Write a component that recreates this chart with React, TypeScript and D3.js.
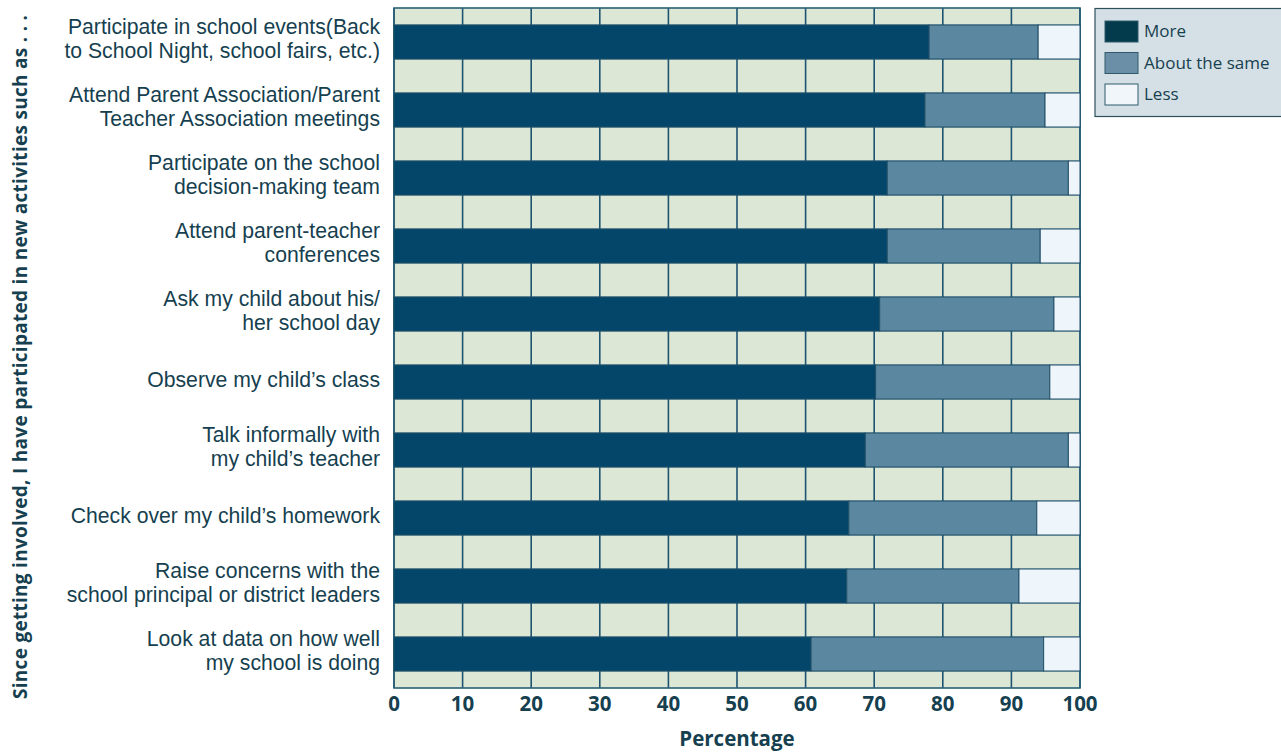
import React from "react";
import * as d3 from "d3";

const categories: string[][] = [
  ["Participate in school events(Back", "to School Night, school fairs, etc.)"],
  ["Attend Parent Association/Parent", "Teacher Association meetings"],
  ["Participate on the school", "decision-making team"],
  ["Attend parent-teacher", "conferences"],
  ["Ask my child about his/", "her school day"],
  ["Observe my child’s class"],
  ["Talk informally with", "my child’s teacher"],
  ["Check over my child’s homework"],
  ["Raise concerns with the", "school principal or district leaders"],
  ["Look at data on how well", "my school is doing"],
];
const more = [78.0, 77.4, 71.9, 71.9, 70.8, 70.2, 68.7, 66.3, 66.0, 60.8];
const aboutSame = [15.9, 17.5, 26.4, 22.3, 25.4, 25.4, 29.6, 27.4, 25.1, 33.9];
const less = more.map((m, i) => 100 - m - aboutSame[i]);
const seriesNames = ["More", "About the same", "Less"];
const xTicks = [0, 10, 20, 30, 40, 50, 60, 70, 80, 90, 100];

const barColors = ["#03466a", "#5b88a0", "#eef5fb"];
const legendColors = ["#043b4c", "#6b8fa6", "#f1f6fa"];
const textColor = "#163f4f";
const font = "'Open Sans', Lato, sans-serif";
const labelFont = "'Liberation Sans', Arial, sans-serif";

export default function App() {
  const left = 394, right = 1080, top = 8, bottom = 688;
  const x = d3.scaleLinear().domain([0, 100]).range([left, right]);
  const y = d3
    .scaleBand<number>()
    .domain(d3.range(categories.length))
    .range([top, bottom])
    .paddingInner(0.5)
    .paddingOuter(0.25);
  const series = [more, aboutSame, less];
  const stacks = more.map((_, i) => {
    let acc = 0;
    return series.map((s) => {
      const start = acc;
      acc += s[i];
      return [start, acc];
    });
  });

  return (
    <svg width={1281} height={753} style={{ position: "absolute", left: 0, top: 0 }}>
      <rect x={0} y={0} width={1281} height={753} fill="#ffffff" />
      <rect x={left} y={top} width={right - left} height={bottom - top} fill="#dde7d5" />
      {categories.map((_, i) => (
        <g key={"b" + i}>
          <line x1={left} x2={right} y1={y(i)!} y2={y(i)!} stroke="#5f8596" strokeWidth={1} />
          <line x1={left} x2={right} y1={y(i)! + y.bandwidth()} y2={y(i)! + y.bandwidth()} stroke="#5f8596" strokeWidth={1} />
        </g>
      ))}
      {xTicks.map((t) => (
        <line key={"g" + t} x1={x(t)} x2={x(t)} y1={top} y2={bottom} stroke="#1e5470" strokeWidth={1.6} />
      ))}
      <rect x={left} y={top} width={right - left} height={bottom - top} fill="none" stroke="#2a5f78" strokeWidth={1.6} />
      {stacks.map((segs, i) =>
        segs.map(([a, b], k) => (
          <rect
            key={`r${i}-${k}`}
            x={x(a)}
            y={y(i)!}
            width={x(b) - x(a)}
            height={y.bandwidth()}
            fill={barColors[k]}
            stroke="#1f4f68"
            strokeWidth={1}
          />
        ))
      )}
      {categories.map((lines, i) => {
        const cy = y(i)! + y.bandwidth() / 2;
        const lh = 24;
        const startY = lines.length === 1 ? cy + 5 : cy - 8;
        return (
          <text key={"l" + i} textAnchor="end" fontFamily={labelFont} fontSize={21.2} fill={textColor}>
            {lines.map((ln, j) => (
              <tspan key={j} x={380} y={startY + j * lh}>
                {ln}
              </tspan>
            ))}
          </text>
        );
      })}
      {xTicks.map((t) => (
        <text key={"t" + t} x={x(t)} y={711} textAnchor="middle" fontFamily={font} fontWeight="bold" fontSize={20.5} fill={textColor}>
          {t}
        </text>
      ))}
      <text x={x(50)} y={746} textAnchor="middle" fontFamily={font} fontWeight="bold" fontSize={20.5} fill={textColor}>
        Percentage
      </text>
      <text
        transform={`translate(27, ${357}) rotate(-90)`}
        textAnchor="middle"
        fontFamily={font}
        fontWeight="bold"
        fontSize={19}
        fill={textColor}
        textLength={684}
        lengthAdjust="spacing"
      >
        Since getting involved, I have participated in new activities such as . . .
      </text>
      <rect x={1095} y={8.5} width={190} height={108} fill="#d4e0e5" stroke="#2d4f5c" strokeWidth={1.2} />
      {seriesNames.map((n, k) => (
        <g key={"lg" + k}>
          <rect x={1105} y={21 + k * 31.5} width={33} height={21} fill={legendColors[k]} stroke="#2f5a6c" strokeWidth={1} />
          <text x={1144} y={37 + k * 31.5} fontFamily={font} fontSize={17} fill={textColor}>
            {n}
          </text>
        </g>
      ))}
    </svg>
  );
}
